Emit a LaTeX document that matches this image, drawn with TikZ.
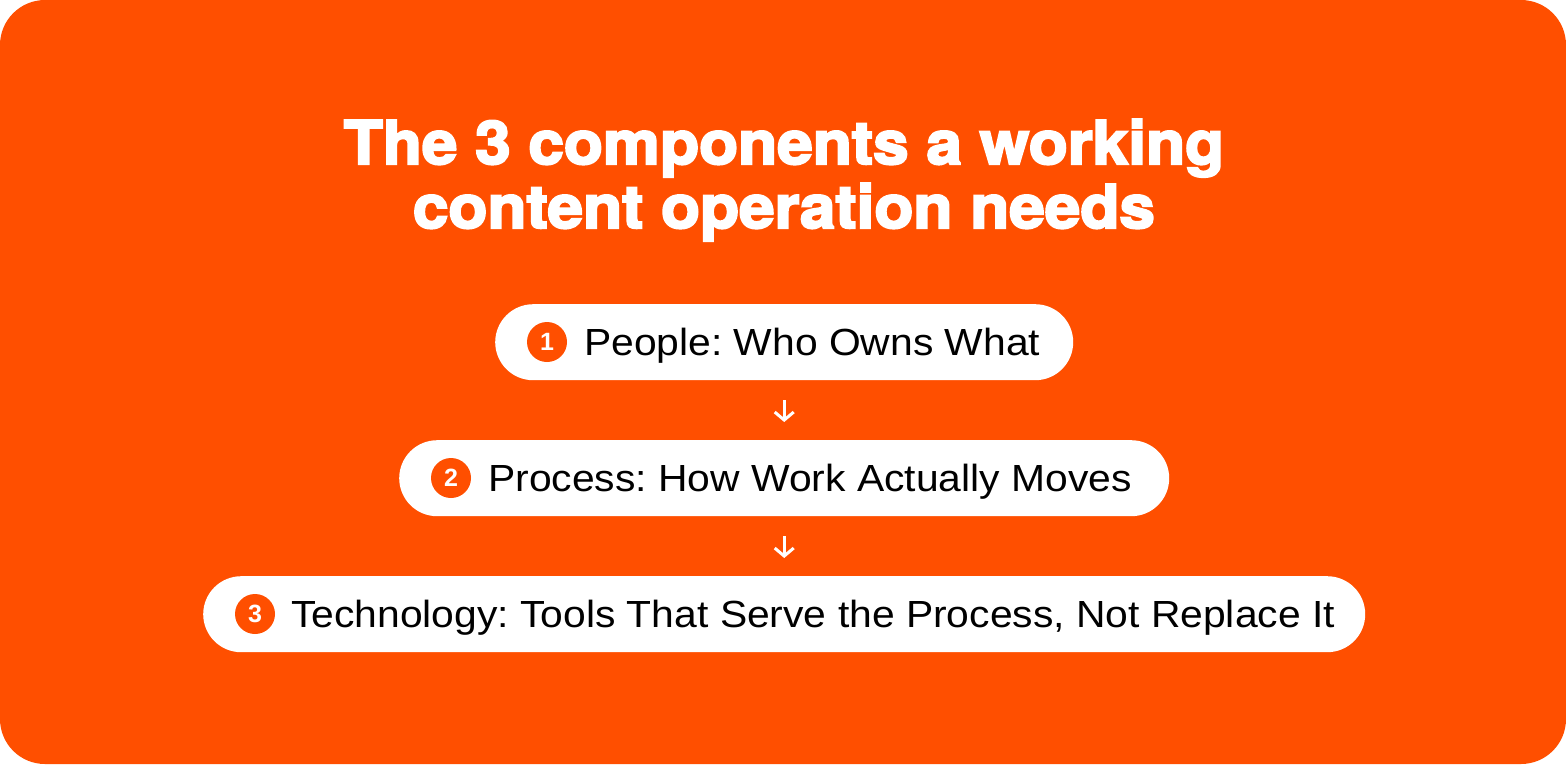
\documentclass[tikz,border=0pt]{standalone}
\usepackage{fontspec}
\setmainfont{Liberation Sans}
\newfontfamily\titlefont[FakeBold=3.5, FakeStretch=1.065]{TeX Gyre Heros Bold}
\newfontfamily\bodyfont[FakeStretch=1.08]{Liberation Sans}
\usetikzlibrary{arrows.meta}
\definecolor{brand}{HTML}{FF4F00}
\frenchspacing
\tikzset{
  pill/.style={fill=white, rounded corners=38pt, minimum height=76pt, inner sep=0pt, anchor=north west},
  badge/.style={circle, fill=brand, minimum size=40pt, inner sep=0pt, text=white, font=\fontsize{25}{25}\selectfont\bfseries},
  label/.style={anchor=base west, inner sep=0pt, font=\bodyfont\fontsize{37.8}{40}\selectfont\frenchspacing, text=black},
  flow/.style={white, line width=3pt, -{Straight Barb[length=8pt, width=19pt, line width=3pt]}, shorten <=20pt, shorten >=18pt},
  heading/.style={text=white, align=center, font=\titlefont\fontsize{60}{64}\selectfont, inner sep=0pt, anchor=base}
}
\begin{document}
\begin{tikzpicture}[x=1pt, y=-1pt]
\useasboundingbox (0,0) rectangle (1566,764);
\fill[brand, rounded corners=45pt] (0,0) rectangle (1566,764);
\node[heading] (title) at (784,228) {The 3 components a working\\content operation needs};
\node[pill, minimum width=578pt] (b1) at (495,304) {};
\node[pill, minimum width=770pt] (b2) at (399,440) {};
\node[pill, minimum width=1162pt] (b3) at (203,576) {};
\node[badge] (c1) at (547,342) {1};
\node[badge] (c2) at (451,478) {2};
\node[badge] (c3) at (255,614) {3};
\node[label] (t1) at (584,355) {People: Who Owns What};
\node[label] (t2) at (488,491) {Process: How Work Actually Moves};
\node[label] (t3) at (291,627) {Technology: Tools That Serve the Process, Not Replace It};
\draw[flow] (b1) -- (b2);
\draw[flow] (b2) -- (b3);
\end{tikzpicture}
\end{document}
